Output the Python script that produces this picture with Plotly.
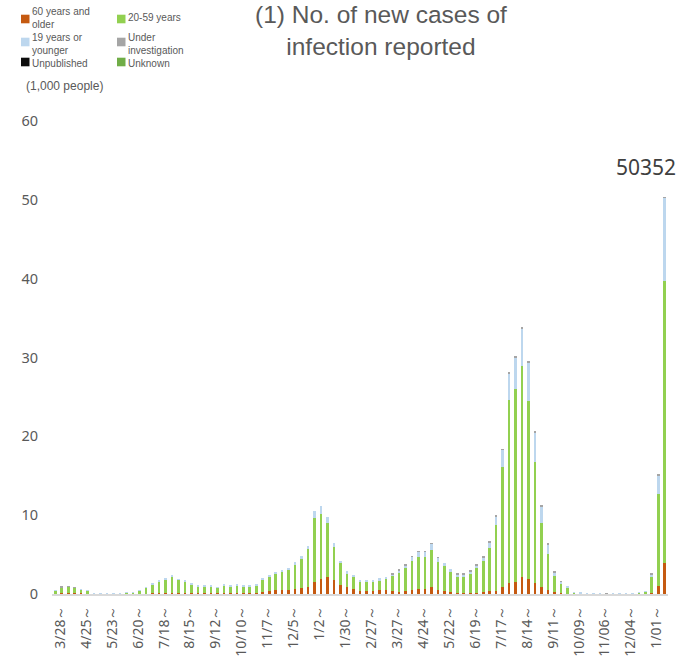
import plotly.graph_objects as go

# Week index 0..94 (weekly buckets starting 2020-03-28), values in 1,000 people
tick_labels = ["3/28～", "4/25～", "5/23～", "6/20～", "7/18～", "8/15～", "9/12～",
               "10/10～", "11/7～", "12/5～", "1/2～", "1/30～", "2/27～", "3/27～",
               "4/24～", "5/22～", "6/19～", "7/17～", "8/14～", "9/11～", "10/09～",
               "11/06～", "12/04～", "1/01～"]

older = [0.05, 0.10, 0.12, 0.12, 0.08, 0.06, 0.01, 0.005, 0.005, 0.01,
         0.01, 0.01, 0.01, 0.03, 0.05, 0.08, 0.10, 0.13, 0.18, 0.17,
         0.17, 0.13, 0.12, 0.13, 0.13, 0.10, 0.15, 0.13, 0.15, 0.13,
         0.13, 0.15, 0.28, 0.38, 0.45, 0.50, 0.55, 0.60, 0.75, 0.95,
         1.49, 1.87, 2.20, 1.78, 1.14, 0.85, 0.59, 0.42, 0.42, 0.42,
         0.47, 0.47, 0.42, 0.30, 0.42, 0.55, 0.68, 0.59, 0.85, 0.55,
         0.42, 0.25, 0.13, 0.17, 0.17, 0.17, 0.21, 0.34, 0.42, 0.85,
         1.35, 1.57, 2.12, 1.86, 1.35, 0.89, 0.47, 0.25, 0.10, 0.05,
         0.02, 0.01, 0.01, 0.005, 0.005, 0.01, 0.003, 0.003, 0.003, 0.003,
         0.01, 0.02, 0.10, 0.97, 3.97]

adults = [0.36, 0.73, 0.78, 0.67, 0.45, 0.35, 0.065, 0.042, 0.042, 0.085,
          0.085, 0.15, 0.18, 0.38, 0.76, 1.14, 1.48, 1.69, 2.02, 1.61,
          1.45, 1.08, 0.84, 0.83, 0.83, 0.70, 0.97, 0.83, 0.93, 0.83,
          0.83, 0.93, 1.56, 1.90, 2.18, 2.37, 2.52, 3.14, 3.70, 4.76,
          8.17, 8.28, 6.82, 4.17, 2.75, 1.78, 1.61, 1.15, 1.15, 1.15,
          1.27, 1.52, 1.87, 2.44, 2.88, 3.67, 4.04, 4.13, 4.78, 3.54,
          3.09, 2.50, 2.12, 2.08, 2.33, 3.09, 4.03, 5.48, 8.27, 15.23,
          23.20, 24.49, 26.78, 22.62, 15.43, 8.12, 4.58, 1.99, 1.19, 0.73,
          0.21, 0.11, 0.06, 0.04, 0.04, 0.04, 0.024, 0.024, 0.024, 0.024,
          0.13, 0.25, 2.10, 11.67, 35.70]

young = [0.02, 0.03, 0.04, 0.03, 0.02, 0.02, 0.005, 0.003, 0.003, 0.005,
         0.005, 0.01, 0.01, 0.02, 0.04, 0.06, 0.08, 0.09, 0.10, 0.09,
         0.08, 0.07, 0.06, 0.06, 0.06, 0.05, 0.07, 0.06, 0.07, 0.06,
         0.06, 0.07, 0.12, 0.15, 0.17, 0.19, 0.21, 0.26, 0.32, 0.42,
         0.81, 1.00, 0.77, 0.55, 0.34, 0.25, 0.21, 0.21, 0.21, 0.21,
         0.25, 0.21, 0.21, 0.25, 0.34, 0.55, 0.63, 0.63, 0.72, 0.51,
         0.42, 0.42, 0.25, 0.25, 0.38, 0.38, 0.42, 0.72, 1.15, 2.20,
         3.40, 4.00, 4.74, 4.90, 3.70, 2.10, 1.25, 0.55, 0.25, 0.15,
         0.02, 0.01, 0.01, 0.005, 0.005, 0.01, 0.003, 0.003, 0.003, 0.003,
         0.01, 0.03, 0.28, 2.40, 10.58]

investigating = [0, 0.08, 0.04, 0.03, 0, 0, 0, 0, 0, 0,
                 0, 0, 0, 0, 0, 0, 0, 0, 0, 0,
                 0, 0, 0, 0, 0, 0, 0, 0, 0, 0,
                 0, 0, 0, 0, 0, 0, 0, 0, 0, 0,
                 0, 0, 0, 0, 0, 0, 0, 0, 0, 0,
                 0, 0, 0.04, 0.06, 0.04, 0.05, 0.06, 0.06, 0.08, 0.05,
                 0, 0, 0.04, 0.04, 0.04, 0.04, 0.04, 0.06, 0.06, 0.08,
                 0.10, 0.10, 0.12, 0.10, 0.08, 0.06, 0.05, 0.04, 0.03, 0,
                 0, 0, 0, 0, 0, 0.04, 0, 0, 0, 0,
                 0, 0, 0.06, 0.06, 0.10]

unpublished = [0] * 95
unknown = [0] * 95

latest_total_label = "50352"

weeks = list(range(95))
tick_positions = list(range(0, 95, 4))[:len(tick_labels)]

# (legend text, values, colour, legend column, legend row)
series = [
    ("60 years and<br>older", older, "#C55A11", 0, 0),
    ("20-59 years", adults, "#92D050", 1, 0),
    ("19 years or<br>younger", young, "#BDD7EE", 0, 1),
    ("Under<br>investigation", investigating, "#A5A5A5", 1, 1),
    ("Unpublished", unpublished, "#0D0D0D", 0, 2),
    ("Unknown", unknown, "#70AD47", 1, 2),
]

# plot-area geometry in pixels (used to place the hand-drawn legend)
W, H = 676, 663
ML, MR, MT, MB = 52, 8, 121, 69
PW, PH = W - ML - MR, H - MT - MB


def px_x(x):
    return (x - ML) / PW


def px_y(y):
    return (H - MB - y) / PH


txt = "#595959"
fig = go.Figure()
shapes = []
annotations = []
col_x = [21, 117]
row_y = [18, 44, 64]
for label, vals, color, col, row in series:
    fig.add_trace(go.Bar(x=weeks, y=vals, name=label.replace("<br>", " "),
                         marker_color=color, marker_line_width=0, showlegend=False))
    sx, sy = col_x[col], row_y[row]
    sq = sy + (1 if row == 0 else (-2 if row == 1 else -2))
    shapes.append(dict(type="rect", xref="paper", yref="paper",
                       x0=px_x(sx), x1=px_x(sx + 8.5), y0=px_y(sq - 4.3), y1=px_y(sq + 4.3),
                       fillcolor=color, line=dict(width=0)))
    annotations.append(dict(text=label, xref="paper", yref="paper", align="left",
                            x=px_x(sx + 10), y=px_y(sy),
                            xanchor="left", yanchor="middle", showarrow=False, borderpad=0,
                            font=dict(family="Liberation Sans, Arial", size=10, color=txt)))

annotations += [
    dict(text="(1) No. of new cases of<br>infection reported", xref="paper", yref="paper",
         x=px_x(381), y=px_y(0), xanchor="center", yanchor="top", showarrow=False,
         borderpad=0, font=dict(family="Liberation Sans, Arial", size=24.5, color=txt)),
    dict(text="(1,000 people)", xref="paper", yref="paper", x=px_x(24), y=px_y(86),
         xanchor="left", yanchor="middle", showarrow=False,
         font=dict(family="Liberation Sans, Arial", size=12, color=txt)),
    dict(text=latest_total_label, xref="paper", yref="paper", x=px_x(678), y=px_y(167),
         xanchor="right", yanchor="middle", showarrow=False,
         font=dict(family="Noto Sans", size=21, color="#404040")),
]

fig.update_layout(
    width=W, height=H,
    margin=dict(l=ML, r=MR, t=MT, b=MB, autoexpand=False),
    barmode="stack", bargap=0.6,
    plot_bgcolor="white", paper_bgcolor="white",
    showlegend=False,
    xaxis=dict(range=[-0.5, 94.5], tickmode="array", tickvals=tick_positions,
               ticktext=tick_labels, tickangle=-90, showgrid=False,
               showline=True, linecolor="#D9D9D9", linewidth=2, ticks="",
               ticklabelshift=5, ticklabelstandoff=4,
               tickfont=dict(family="Noto Sans", size=14, color=txt)),
    yaxis=dict(range=[0, 60], tickvals=[0, 10, 20, 30, 40, 50, 60],
               showgrid=False, zeroline=False, showline=False, ticks="",
               ticklabelstandoff=13,
               tickfont=dict(family="Noto Sans", size=14.5, color=txt)),
    shapes=shapes,
    annotations=annotations,
)

fig.write_html("out.html", config={"displayModeBar": False},
               post_script="document.body.style.margin='0';document.body.style.overflow='hidden';")
